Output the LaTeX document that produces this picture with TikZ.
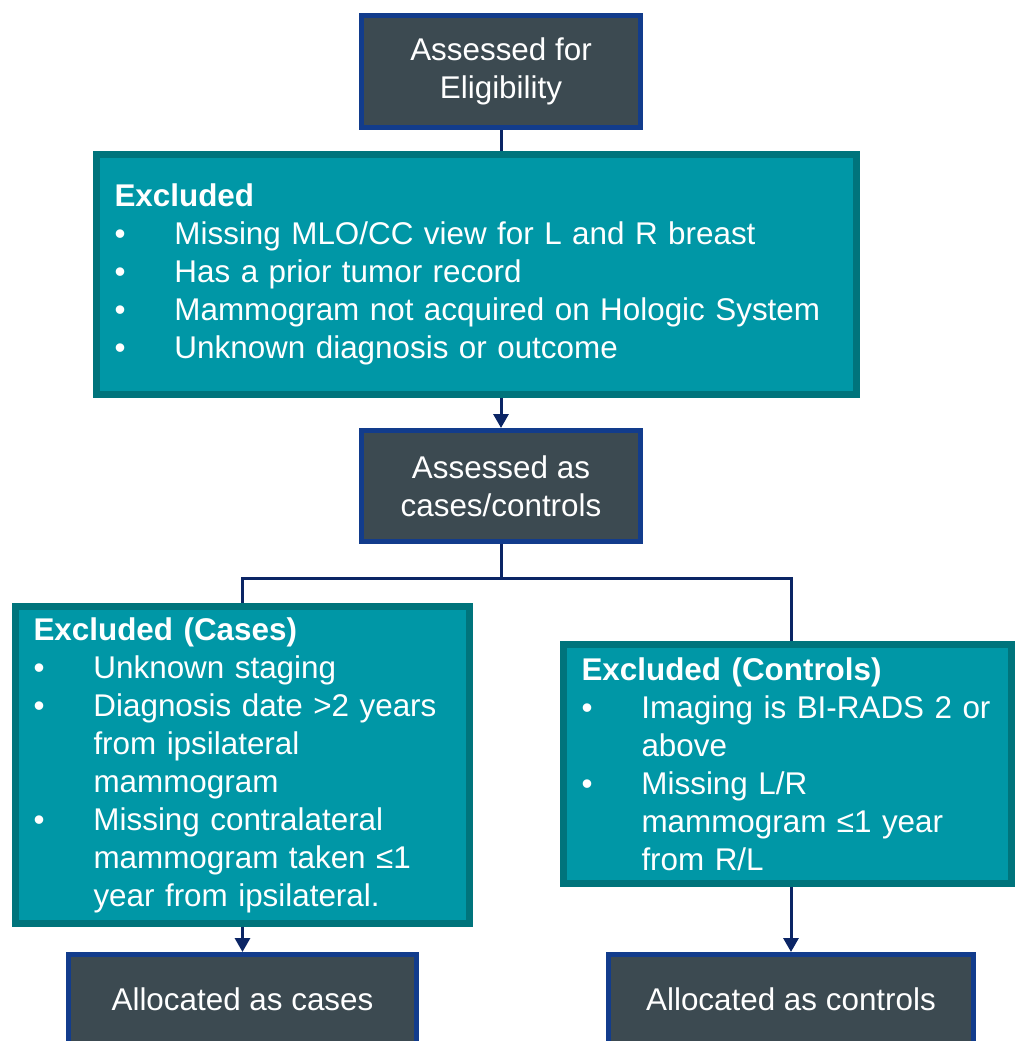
\documentclass[tikz,border=0pt]{standalone}
\usepackage{fontspec}
\setmainfont{Liberation Sans}
\usetikzlibrary{arrows.meta,shadows}

\definecolor{slatebox}{HTML}{3C4A51}
\definecolor{slateedge}{HTML}{123C8C}
\definecolor{tealbox}{HTML}{0097A6}
\definecolor{tealedge}{HTML}{00747C}
\definecolor{linknavy}{HTML}{0B2565}

\newcommand{\itm}{\makebox[30pt][l]{\textbullet}}
\newcommand{\cnt}{\hspace*{30pt}}

\tikzset{
    stage/.style={draw=slateedge, fill=slatebox, line width=2.5pt, text=white,
        align=center, inner sep=0pt, font=\fontsize{15.7}{19}\selectfont},
    exclbox/.style={draw=tealedge, fill=tealbox, line width=3.5pt, text=white,
        align=left, inner xsep=9pt, inner ysep=0pt, font=\fontsize{15.7}{19}\selectfont,
        drop shadow={opacity=0.25, shadow xshift=1pt, shadow yshift=-1.5pt}},
    link/.style={draw=linknavy, line width=1.5pt},
    arr/.style={link, -{Triangle[width=7.5pt,length=7pt]}}
}

\begin{document}
\begin{tikzpicture}[x=0.5pt,y=-0.5pt]
        \useasboundingbox (0,0) rectangle (1017,1041);
        \clip (0,0) rectangle (1017,1041);
        \node[stage, minimum width=139.5pt, minimum height=56pt] (elig) at (501,71.5)
            {Assessed for\\Eligibility};
        \node[exclbox, minimum width=380pt, minimum height=120pt, text width=362pt] (excl) at (476.5,274.5)
            {\textbf{Excluded}\\
            \itm Missing MLO/CC view for L and R breast\\
            \itm Has a prior tumor record\\
            \itm Mammogram not acquired on Hologic System\\
            \itm Unknown diagnosis or outcome};
        \node[stage, minimum width=139.5pt, minimum height=55.5pt] (assess) at (501,486)
            {Assessed as\\cases/controls};
        \coordinate (fork) at (501,578);
        \node[exclbox, minimum width=227pt, minimum height=158.5pt, text width=209pt] (cases) at (242.5,765)
            {\textbf{Excluded (Cases)}\\
            \itm Unknown staging\\
            \itm Diagnosis date >2 years\\
            \cnt from ipsilateral\\
            \cnt mammogram\\
            \itm Missing contralateral\\
            \cnt mammogram taken ≤1\\
            \cnt year from ipsilateral.};
        \node[exclbox, minimum width=224pt, minimum height=119.5pt, text width=206pt] (ctrls) at (787.5,764)
            {\textbf{Excluded (Controls)}\\
            \itm Imaging is BI-RADS 2 or\\
            \cnt above\\
            \itm Missing L/R\\
            \cnt mammogram ≤1 year\\
            \cnt from R/L};
        \node[stage, minimum width=174pt, minimum height=44.5pt] (alloccase) at (242.5,999)
            {Allocated as cases};
        \node[stage, minimum width=182.5pt, minimum height=44.5pt] (allocctrl) at (791,999)
            {Allocated as controls};

        \draw[link] (elig) -- (excl.north -| elig);
        \draw[arr] (excl.south -| assess) -- (assess);
        \draw[link] (assess) -- (fork);
        \draw[link] (fork) -| (cases);
        \draw[link] (fork) -| (ctrls.north -| allocctrl);
        \draw[arr] (cases) -- (alloccase);
        \draw[arr] (ctrls.south -| allocctrl) -- (allocctrl);
    \end{tikzpicture}
\end{document}
